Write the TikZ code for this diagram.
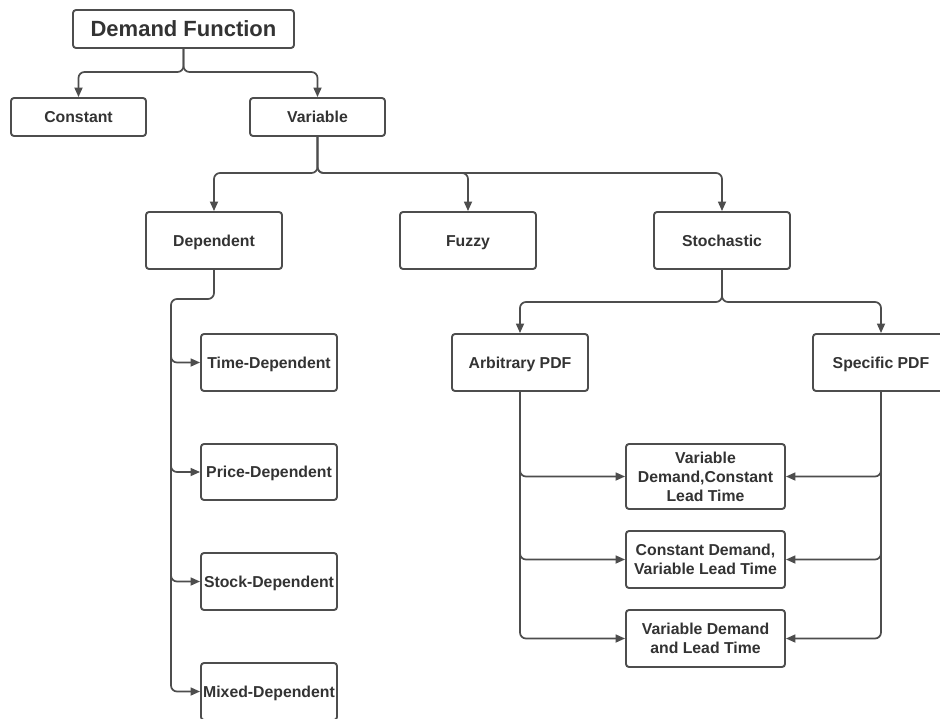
\documentclass[tikz,border=0pt]{standalone}
\usepackage{fontspec}
\setmainfont{Liberation Sans}
\usetikzlibrary{arrows.meta,calc}
\definecolor{linegray}{HTML}{4D4D4D}
\definecolor{txtgray}{HTML}{333333}
\begin{document}
\begin{tikzpicture}[x=1pt,y=-1pt,
  box/.style={draw=linegray,line width=1.9pt,rounded corners=3pt,fill=white,
    text=txtgray,font=\fontsize{15.8}{19}\selectfont\bfseries,align=center,
    inner sep=0pt,minimum width=136pt,minimum height=57pt},
  one/.style={text height=11.4pt,text depth=0pt},
  conn/.style={draw=linegray,line width=1.7pt,rounded corners=6pt},
  arr/.style={conn,-{Triangle[length=9.5pt,width=8pt]}}]
\useasboundingbox (0,0) rectangle (940,718);
\clip (0,0) rectangle (940,718);
% nodes
\node[box,minimum width=221pt,minimum height=38pt,font=\fontsize{22}{24}\selectfont\bfseries,text height=15.8pt,text depth=0pt] (df) at (183.5,29) {Demand Function};
\node[box,one,minimum width=135pt,minimum height=38pt] (const) at (78.5,117) {Constant};
\node[box,one,minimum width=135pt,minimum height=38pt] (var) at (317.5,117) {Variable};
\node[box,one] (dep) at (214,240.5) {Dependent};
\node[box,one] (fuzzy) at (468,240.5) {Fuzzy};
\node[box,one] (stoch) at (722,240.5) {Stochastic};
\node[box,one] (time) at (269,362.5) {Time-Dependent};
\node[box,one,minimum height=56pt] (price) at (269,472) {Price-Dependent};
\node[box,one] (stock) at (269,581.5) {Stock-Dependent};
\node[box,one] (mixed) at (269,691.5) {Mixed-Dependent};
\node[box,one] (arb) at (520,362.5) {Arbitrary PDF};
\node[box,one] (spec) at (881,362.5) {Specific PDF};
\node[box,minimum width=159pt,minimum height=65pt] (b1) at (705.5,476.5) {Variable\\Demand,Constant\\Lead Time};
\node[box,minimum width=159pt] (b2) at (705.5,559.5) {Constant Demand,\\Variable Lead Time};
\node[box,minimum width=159pt] (b3) at (705.5,638.5) {Variable Demand\\and Lead Time};
% junctions
\coordinate (j1) at (183.5,72);
\coordinate (j2) at (317.5,173);
\coordinate (j3) at (722,302);
\coordinate (dl) at (171,299);
% connectors
\draw[arr] (df.south) -- (j1) -| (const.north);
\draw[arr] (df.south) -- (j1) -| (var.north);
\draw[arr] (var.south) -- (j2) -| (dep.north);
\draw[arr] (var.south) -- (j2) -| (fuzzy.north);
\draw[arr] (var.south) -- (j2) -| (stoch.north);
\draw[arr] (dep.south) |- (dl) -- (dl |- mixed.west) -- (mixed.west);
\draw[arr] ($(dl |- time.west)+(0,-8)$) |- (time.west);
\draw[arr] ($(dl |- price.west)+(0,-8)$) |- (price.west);
\draw[arr] ($(dl |- stock.west)+(0,-8)$) |- (stock.west);
\draw[arr] (stoch.south) -- (j3) -| (arb.north);
\draw[arr] (stoch.south) -- (j3) -| (spec.north);
\draw[arr] (arb.south) |- (b3.west);
\draw[arr] ($(arb.south |- b1.west)+(0,-8)$) |- (b1.west);
\draw[arr] ($(arb.south |- b2.west)+(0,-8)$) |- (b2.west);
\draw[arr] (spec.south) |- (b3.east);
\draw[arr] ($(spec.south |- b1.east)+(0,-8)$) |- (b1.east);
\draw[arr] ($(spec.south |- b2.east)+(0,-8)$) |- (b2.east);
\end{tikzpicture}
\end{document}
